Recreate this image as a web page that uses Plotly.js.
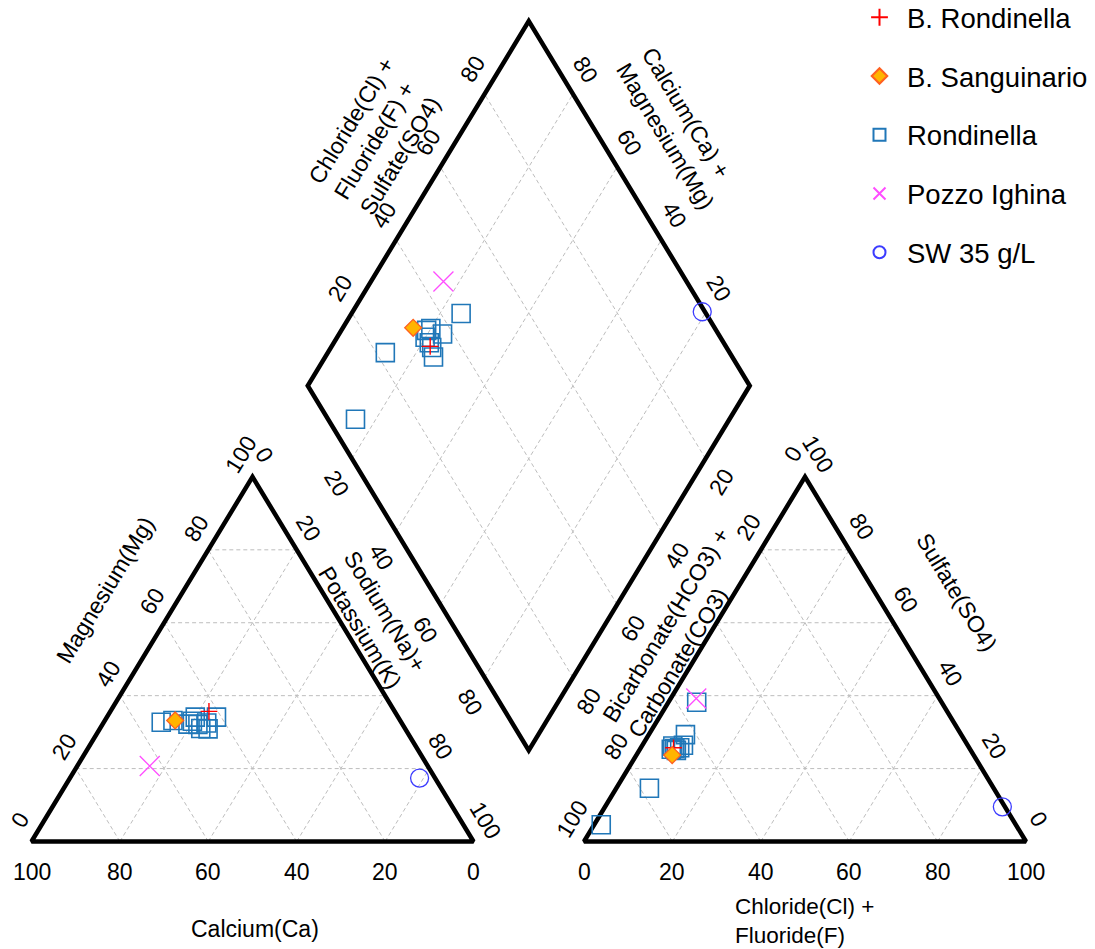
<!DOCTYPE html>
<html>
<head>
<meta charset="utf-8">
<script src="https://cdn.plot.ly/plotly-3.0.1.min.js"></script>
<style>
  html, body { margin: 0; padding: 0; background: #fff; }
  #chart { width: 1095px; height: 949px; }
</style>
</head>
<body>
<div id="chart"></div>
<script>
// ---- Sample composition, % of total cations / anions (meq/L) ----
// Rondinella springs
const rondinellaCa   = [54.3, 51.4, 41.1, 44.1, 45.9, 48.5, 47.1, 46.3, 44.6, 46.2];
const rondinellaMg   = [32.7, 33.2, 34.1, 32.5, 34.1, 32.2, 33.0, 32.1, 30.9, 31.0];
const rondinellaNaK  = [13.0, 15.4, 24.8, 23.4, 20.0, 19.3, 19.9, 21.6, 24.5, 22.8];
const rondinellaHCO3 = [77.9, 93.8, 55.4, 62.4, 64.3, 65.5, 66.8, 66.6, 67.6, 66.7];
const rondinellaSO4  = [14.6, 4.6, 38.2, 29.3, 26.4, 25.7, 26.2, 25.0, 25.3, 25.5];
const rondinellaClF  = [7.5, 1.6, 6.4, 8.3, 9.3, 8.8, 7.0, 8.4, 7.1, 7.8];

// B. Rondinella
const bRondinellaCa   = [42.0];
const bRondinellaMg   = [35.7];
const bRondinellaNaK  = [22.3];
const bRondinellaHCO3 = [66.9];
const bRondinellaSO4  = [25.7];
const bRondinellaClF  = [7.4];

// B. Sanguinario
const bSanguinarioCa   = [50.9];
const bSanguinarioMg   = [33.2];
const bSanguinarioNaK  = [15.9];
const bSanguinarioHCO3 = [68.2];
const bSanguinarioSO4  = [23.7];
const bSanguinarioClF  = [8.1];

// Pozzo Ighina
const ighinaCa   = [62.9];
const ighinaMg   = [20.7];
const ighinaNaK  = [16.4];
const ighinaHCO3 = [55.0];
const ighinaSO4  = [39.2];
const ighinaClF  = [5.8];

// Seawater 35 g/L
const seawaterCa   = [3.5];
const seawaterMg   = [17.4];
const seawaterNaK  = [79.1];
const seawaterHCO3 = [0.6];
const seawaterSO4  = [9.5];
const seawaterClF  = [89.9];

// Axis tick values
const triTicks = [0, 20, 40, 60, 80, 100];
const innerEdgeTicks = [0, 20, 80, 100];
const diamondTicks = [20, 40, 60, 80];
const gridValues = [20, 40, 60, 80];

// ---- Piper geometry (units: triangle side = 100) ----
const W = 1095, HPX = 949;
const X0 = 31.5, Y0 = 841.5;       // pixel position of the cation triangle's left corner
const SX = 4.42, SY = 4.21;        // pixels per unit
const H = Math.sqrt(3) / 2;
const GAP = 25;                    // gap between the two triangles
const xRange = [-X0 / SX, (W - X0) / SX];
const yRange = [-(HPX - Y0) / SY, Y0 / SY];
const EA = Math.atan2(100 * H * SY, 50 * SX) * 180 / Math.PI;  // on-screen edge angle

function cationXY(ca, mg, nak) {
  const s = ca + mg + nak;
  const m = 100 * mg / s, n = 100 * nak / s;
  return [n + m / 2, m * H];
}
function anionXY(hco3, so4, cl) {
  const s = hco3 + so4 + cl;
  const su = 100 * so4 / s, c = 100 * cl / s;
  return [100 + GAP + c + su / 2, su * H];
}
function diamondXY(caMg, clSo4) {
  return [100 + GAP / 2 + 0.5 * (clSo4 - caMg), GAP * H + H * (clSo4 + caMg)];
}

function groupPoints(ca, mg, nak, hco3, so4, cl) {
  const xs = [], ys = [];
  for (let i = 0; i < ca.length; i++) {
    const c = cationXY(ca[i], mg[i], nak[i]);
    const a = anionXY(hco3[i], so4[i], cl[i]);
    const caMg = 100 * (ca[i] + mg[i]) / (ca[i] + mg[i] + nak[i]);
    const clSo4 = 100 * (cl[i] + so4[i]) / (hco3[i] + so4[i] + cl[i]);
    const d = diamondXY(caMg, clSo4);
    xs.push(c[0], a[0], d[0]);
    ys.push(c[1], a[1], d[1]);
  }
  return { x: xs, y: ys };
}

// ---- grid lines ----
const gx = [], gy = [];
function seg(p, q) { gx.push(p[0], q[0], null); gy.push(p[1], q[1], null); }
gridValues.forEach(v => {
  seg(cationXY(100 - v, v, 0), cationXY(0, v, 100 - v));
  seg(cationXY(100 - v, 0, v), cationXY(0, 100 - v, v));
  seg(cationXY(v, 0, 100 - v), cationXY(v, 100 - v, 0));
  seg(anionXY(100 - v, v, 0), anionXY(0, v, 100 - v));
  seg(anionXY(100 - v, 0, v), anionXY(0, 100 - v, v));
  seg(anionXY(v, 0, 100 - v), anionXY(v, 100 - v, 0));
  seg(diamondXY(0, v), diamondXY(100, v));
  seg(diamondXY(v, 0), diamondXY(v, 100));
});

// ---- frames ----
const fx = [], fy = [];
function poly(pts) {
  pts.concat([pts[0], pts[1]]).forEach(p => { fx.push(p[0]); fy.push(p[1]); });
  fx.push(null); fy.push(null);
}
poly([cationXY(100, 0, 0), cationXY(0, 0, 100), cationXY(0, 100, 0)]);
poly([anionXY(100, 0, 0), anionXY(0, 0, 100), anionXY(0, 100, 0)]);
poly([diamondXY(0, 0), diamondXY(0, 100), diamondXY(100, 100), diamondXY(100, 0)]);

const traces = [
  { x: gx, y: gy, mode: 'lines', line: { color: '#bdbdbd', width: 1, dash: '4px,3px' },
    showlegend: false, hoverinfo: 'skip' },
  { x: fx, y: fy, mode: 'lines', line: { color: '#000', width: 4.5 },
    showlegend: false, hoverinfo: 'skip' }
];

const groups = [
  { name: 'Rondinella', rank: 3, d: groupPoints(rondinellaCa, rondinellaMg, rondinellaNaK, rondinellaHCO3, rondinellaSO4, rondinellaClF),
    marker: { symbol: 'square-open', size: 18, color: '#2077b8', line: { width: 1.6 } } },
  { name: 'Pozzo Ighina', rank: 4, d: groupPoints(ighinaCa, ighinaMg, ighinaNaK, ighinaHCO3, ighinaSO4, ighinaClF),
    marker: { symbol: 'x-thin-open', size: 20, color: '#ff4dff', line: { width: 1.3, color: '#ff4dff' } } },
  { name: 'SW 35 g/L', rank: 5, d: groupPoints(seawaterCa, seawaterMg, seawaterNaK, seawaterHCO3, seawaterSO4, seawaterClF),
    marker: { symbol: 'circle-open', size: 18, color: '#3b3bff', line: { width: 1.3 } } },
  { name: 'B. Rondinella', rank: 1, d: groupPoints(bRondinellaCa, bRondinellaMg, bRondinellaNaK, bRondinellaHCO3, bRondinellaSO4, bRondinellaClF),
    marker: { symbol: 'cross-thin-open', size: 12, color: '#ff0000', line: { width: 1.4, color: '#ff0000' } } },
  { name: 'B. Sanguinario', rank: 2, d: groupPoints(bSanguinarioCa, bSanguinarioMg, bSanguinarioNaK, bSanguinarioHCO3, bSanguinarioSO4, bSanguinarioClF),
    marker: { symbol: 'diamond', size: 13, color: '#ffb400', line: { width: 1.3, color: '#ff6020' } } }
];
groups.forEach(g => traces.push({
  x: g.d.x, y: g.d.y, mode: 'markers', type: 'scatter', name: g.name,
  legendrank: g.rank, legendgroup: g.name, marker: g.marker, hoverinfo: 'name'
}));

// ---- labels ----
const FONT = 'Liberation Sans, Arial, Helvetica, sans-serif';
const annotations = [];
function label(p, text, angle, dx, dy, extra) {
  annotations.push(Object.assign({
    x: p[0], y: p[1], xref: 'x', yref: 'y', text: text, textangle: angle,
    xshift: dx, yshift: -dy, showarrow: false, font: { family: FONT, size: 23, color: '#000' }
  }, extra || {}));
}

triTicks.forEach(v => {
  label(cationXY(v, 0, 100 - v), String(v), 0, 0, 30);          // Ca along the base
  label(cationXY(100 - v, v, 0), String(v), -EA, -12, -22);      // Mg on the left edge
  label(anionXY(100 - v, 0, v), String(v), 0, 0, 30);           // Cl+F along the base
  label(anionXY(0, v, 100 - v), String(v), EA, 13, -23);         // SO4 on the right edge
});
innerEdgeTicks.forEach(v => {
  label(cationXY(0, 100 - v, v), String(v), EA, 12, -22);        // Na+K
  label(anionXY(v, 100 - v, 0), String(v), -EA, -12, -22.5);     // HCO3+CO3
});
diamondTicks.forEach(v => {
  label(diamondXY(100, v), String(v), -EA, -12, -25);
  label(diamondXY(v, 100), String(v), EA, 13, -24.5);
  label(diamondXY(100 - v, 0), String(v), EA, -14.5, 25);
  label(diamondXY(0, 100 - v), String(v), -EA, 16, 23.7);
});

label(cationXY(50, 0, 50), 'Calcium(Ca)', 0, 2, 87);
label(anionXY(50, 0, 50), 'Chloride(Cl) +<br>Fluoride(F)', 0, -1, 79, { align: 'left', font: { family: FONT, size: 22.5, color: '#000' } });
label(cationXY(40.6, 59.4, 0), 'Magnesium(Mg)', -EA, -57.7, -35.1);
label(cationXY(0, 56.7, 43.3), 'Sodium(Na)+<br>Potassium(K)', EA, 24.8, -14.9, { align: 'left' });
label(anionXY(46.7, 53.3, 0), 'Bicarbonate(HCO3) +<br>Carbonate(CO3)', -EA, -23.2, -14, { align: 'left' });
label(anionXY(0, 58.45, 41.55), 'Sulfate(SO4)', EA, 59.5, -36);
label(diamondXY(100, 58.5), 'Chloride(Cl) +<br>Fluoride(F) +<br>Sulfate(SO4)', -EA, -59.8, -36.2, { align: 'left' });
label(diamondXY(60.4, 100), 'Calcium(Ca) +<br>Magnesium(Mg)', EA, 61.5, -37.3, { align: 'left' });

const layout = {
  width: W, height: HPX,
  margin: { l: 0, r: 0, t: 0, b: 0, autoexpand: false },
  paper_bgcolor: '#fff', plot_bgcolor: '#fff',
  xaxis: { range: xRange, visible: false, fixedrange: true },
  yaxis: { range: yRange, visible: false, fixedrange: true },
  showlegend: true,
  legend: {
    x: 852 / W, xanchor: 'left', y: 1.0075, yanchor: 'top',
    bgcolor: 'rgba(0,0,0,0)', borderwidth: 0,
    font: { family: FONT, size: 27.5, color: '#000' },
    itemsizing: 'constant', itemwidth: 45, tracegroupgap: 20, traceorder: 'grouped'
  },
  annotations: annotations,
  hovermode: false
};

Plotly.newPlot('chart', traces, layout, { displayModeBar: false, staticPlot: true });
</script>
</body>
</html>
